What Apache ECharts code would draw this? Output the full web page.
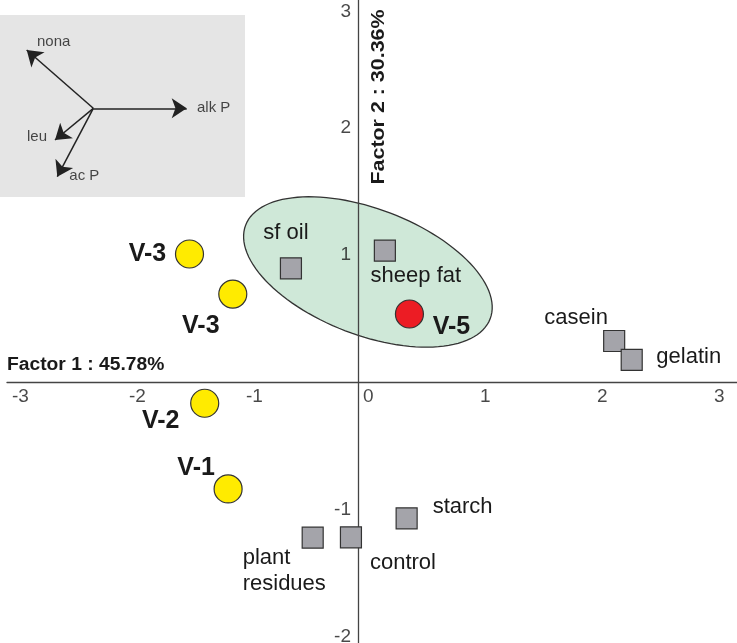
<!DOCTYPE html>
<html>
<head>
<meta charset="utf-8">
<script src="https://cdn.jsdelivr.net/npm/echarts@6/dist/echarts.min.js"></script>
<style>html,body{margin:0;padding:0;background:#fff;}#c{width:737px;height:643px;}</style>
</head>
<body>
<div id="c"></div>
<script>
// ---- data ----
const xAxisTitle = 'Factor 1 : 45.78%';
const yAxisTitle = 'Factor 2 : 30.36%';

const xTickValues = [-3, -2, -1, 0, 1, 2, 3];
const yTickValues = [-2, -1, 1, 2, 3];

const yellowNames = ['V-3', 'V-3', 'V-2', 'V-1'];
const yellowPoints = [[-1.44, 1.005], [-1.07, 0.69], [-1.31, -0.167], [-1.11, -0.84]];

const redNames = ['V-5'];
const redPoints = [[0.44, 0.534]];

const squareNames = ['sf oil', 'sheep fat', 'casein', 'gelatin', 'starch', 'control', 'plant\nresidues'];
const squarePoints = [[-0.573, 0.893], [0.23, 1.031], [2.19, 0.322], [2.34, 0.173], [0.416, -1.071], [-0.06, -1.22], [-0.387, -1.223]];

// cluster ellipse: centre and two conjugate semi-diameters (data units)
const ellipseCenter = [0.085, 0.864];
const ellipseU = [1.045, -0.368];
const ellipseV = [0.193, 0.462];

// inset loadings (arrow tips from origin)
const loadingNames = ['nona', 'alk P', 'leu', 'ac P'];
const loadingTips = [[-0.666, 0.583], [0.934, 0.0], [-0.383, -0.317], [-0.36, -0.684]];

// ---- styles (label offsets etc.) ----
const yellowLabelOffsets = [[-42, 0], [-32, 32], [-44, 18], [-32, -21]];
const redLabelOffsets = [[42, 13]];
const squareLabelOffsets = [[-5, -35], [31, 25], [-38, -23], [57, -3], [56, -11], [52, 26], [-70, 33]];
const squareLabelAlign = ['center', 'center', 'center', 'center', 'center', 'center', 'left'];
const loadingLabelOffsets = [[27, -8], [27, 0], [-18, -3], [27, -1]];
const yTickLabelOffsets = [[-7, 0], [-7, 0], [-7, 0], [-7, 0], [-7, 12]];

const TXT = '#1a1a1a';
const FONT = "'Liberation Sans', Arial, sans-serif";

function makeItems(points, names, offsets, bold, size, aligns) {
  return points.map((p, i) => ({
    value: p,
    name: names[i],
    label: {
      show: true,
      position: 'inside',
      offset: offsets[i],
      formatter: '{b}',
      color: TXT,
      fontFamily: FONT,
      fontSize: size,
      fontWeight: bold ? 'bold' : 'normal',
      align: aligns ? aligns[i] : 'center',
      lineHeight: 26
    }
  }));
}

const chart = echarts.init(document.getElementById('c'), null, {renderer: 'canvas'});

const option = {
  animation: false,
  backgroundColor: '#fff',
  grid: [
    {left: 7, right: 0, top: 0, bottom: 0, containLabel: false, outerBoundsMode: 'none'},
    {left: 0, top: 15, width: 245, height: 182, show: true, backgroundColor: '#e5e5e5', borderWidth: 0, z: 1, containLabel: false, outerBoundsMode: 'none'}
  ],
  xAxis: [
    {
      type: 'value', gridIndex: 0, min: -3, max: 3.24,
      axisLine: {show: true, onZero: true, lineStyle: {color: '#444', width: 1.3}},
      axisTick: {show: false},
      splitLine: {show: false},
      axisLabel: {show: false}
    },
    {type: 'value', gridIndex: 1, min: -0.933, max: 1.517, show: false}
  ],
  yAxis: [
    {
      type: 'value', gridIndex: 0, min: -2.05, max: 3,
      axisLine: {show: true, onZero: true, lineStyle: {color: '#444', width: 1.3}},
      axisTick: {show: false},
      splitLine: {show: false},
      axisLabel: {show: false}
    },
    {type: 'value', gridIndex: 1, min: -0.887, max: 0.933, show: false}
  ],
  graphic: [
    {
      type: 'text', left: 7, top: 356, z: 10,
      scaleX: 1.07,
      style: {text: xAxisTitle, fill: TXT, font: "bold 18px 'Liberation Sans', Arial, sans-serif"}
    },
    {
      type: 'text', x: 379, y: 97, rotation: Math.PI / 2, z: 10,
      scaleX: 1.19,
      style: {text: yAxisTitle, fill: TXT, align: 'center', verticalAlign: 'middle', font: "bold 18px 'Liberation Sans', Arial, sans-serif"}
    }
  ],
  series: [
    {
      type: 'custom', xAxisIndex: 0, yAxisIndex: 0, z: -1, silent: true,
      data: [[ellipseCenter[0], ellipseCenter[1]]],
      renderItem: function (params, api) {
        const pts = [];
        const n = 120;
        for (let k = 0; k < n; k++) {
          const t = 2 * Math.PI * k / n;
          const dx = ellipseU[0] * Math.cos(t) + ellipseV[0] * Math.sin(t);
          const dy = ellipseU[1] * Math.cos(t) + ellipseV[1] * Math.sin(t);
          pts.push(api.coord([ellipseCenter[0] + dx, ellipseCenter[1] + dy]));
        }
        return {
          type: 'polygon',
          shape: {points: pts},
          style: {fill: '#cfe8d8', stroke: '#333', lineWidth: 1.3}
        };
      }
    },
    // x tick labels, placed on the x axis through the scale
    {
      type: 'scatter', xAxisIndex: 0, yAxisIndex: 0, z: 6, symbolSize: 0, silent: true, clip: false,
      data: xTickValues.map(v => ({
        value: [v, 0], name: String(v),
        label: {show: true, position: 'inside', offset: [5, 15], align: 'left', formatter: '{b}', color: TXT, fontFamily: FONT, fontSize: 19}
      }))
    },
    // y tick labels, placed on the y axis through the scale
    {
      type: 'scatter', xAxisIndex: 0, yAxisIndex: 0, z: 6, symbolSize: 0, silent: true, clip: false,
      data: yTickValues.map((v, i) => ({
        value: [0, v], name: String(v),
        label: {show: true, position: 'inside', offset: yTickLabelOffsets[i], align: 'right', formatter: '{b}', color: TXT, fontFamily: FONT, fontSize: 19}
      }))
    },
    {
      type: 'scatter', xAxisIndex: 0, yAxisIndex: 0, z: 5,
      symbol: 'rect', symbolSize: 21,
      itemStyle: {color: '#a4a4aa', borderColor: '#333', borderWidth: 1.2, opacity: 1},
      data: makeItems(squarePoints, squareNames, squareLabelOffsets, false, 22, squareLabelAlign)
    },
    {
      type: 'scatter', xAxisIndex: 0, yAxisIndex: 0, z: 5,
      symbol: 'circle', symbolSize: 28,
      itemStyle: {color: '#ffeb00', borderColor: '#333', borderWidth: 1.2, opacity: 1},
      data: makeItems(yellowPoints, yellowNames, yellowLabelOffsets, true, 25)
    },
    {
      type: 'scatter', xAxisIndex: 0, yAxisIndex: 0, z: 5,
      symbol: 'circle', symbolSize: 28,
      itemStyle: {color: '#ec1c24', borderColor: '#333', borderWidth: 1.2, opacity: 1},
      data: makeItems(redPoints, redNames, redLabelOffsets, true, 25)
    },
    {
      type: 'lines', coordinateSystem: 'cartesian2d', xAxisIndex: 1, yAxisIndex: 1, z: 5,
      symbol: ['none', 'arrow'], symbolSize: [0, 15],
      lineStyle: {color: '#222', width: 1.5, opacity: 1},
      data: loadingTips.map(t => ({coords: [[0, 0], t]}))
    },
    {
      type: 'scatter', xAxisIndex: 1, yAxisIndex: 1, z: 5,
      symbolSize: 0, silent: true, clip: false,
      data: loadingTips.map((t, i) => ({
        value: t, name: loadingNames[i],
        label: {show: true, position: 'inside', offset: loadingLabelOffsets[i], formatter: '{b}', color: TXT, fontFamily: FONT, fontSize: 15}
      }))
    }
  ]
};
chart.setOption(option);
</script>
</body>
</html>
